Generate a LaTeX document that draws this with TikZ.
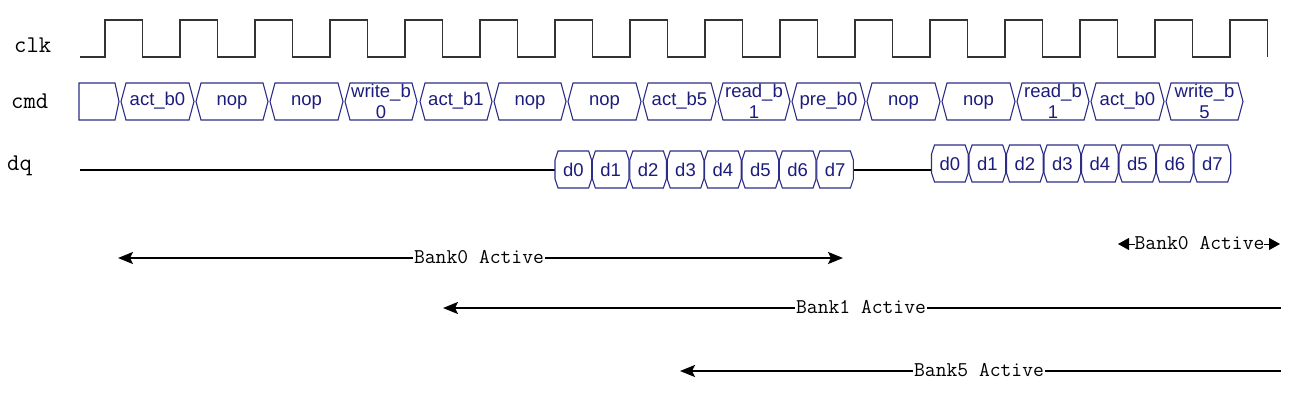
\documentclass[tikz,border=0pt]{standalone}
\usepackage{fontspec}
\setmainfont{Liberation Sans}
\usetikzlibrary{arrows.meta}
\definecolor{navy}{RGB}{28,28,125}
\definecolor{boxc}{RGB}{45,45,135}
\tikzset{
  wave/.style={line width=1.5pt, draw=black!80},
  cmdbox/.style={draw=boxc, line width=1.1pt},
  cmdtxt/.style={text=navy, font=\fontsize{18.5}{21}\selectfont, inner sep=0pt, align=center},
  signame/.style={font=\fontsize{24}{26}\ttfamily, inner sep=0pt, anchor=west},
  dline/.style={line width=1.8pt, draw=black},
  bankarrow/.style={line width=2.2pt, draw=black, {Stealth[length=15pt,width=12pt,inset=3pt]}-{Stealth[length=15pt,width=12pt,inset=3pt]}},
  banktxt/.style={font=\fontsize{21}{24}\ttfamily, fill=white, inner sep=1pt},
  smallhead/.style={line width=1pt, draw=black, {Triangle[length=11pt,width=12pt]}-{Triangle[length=11pt,width=12pt]}}
}
\begin{document}
\begin{tikzpicture}[x=1pt,y=-1pt]
\useasboundingbox (0,0) rectangle (1295,405);

% signal names
\node[signame] (clk) at (14,45) {clk};
\node[signame] (cmd) at (11,101) {cmd};
\node[signame] (dq) at (7,166) {dq};

% clock waveform
\draw[wave] (80,57) -- (105,57)
  \foreach \k in {0,...,14} { -- ({105+75*\k},20) -- ({142.5+75*\k},20) -- ({142.5+75*\k},57) -- ({180+75*\k},57) }
  -- (1230,20) -- (1267.5,20) -- (1267.5,57);

% cmd bus
\draw[cmdbox] (79,83) -- (115,83) -- (119,101.5) -- (115,120) -- (79,120) -- cycle;
\node (c0) at (99,101.5) {};
\foreach \a/\b/\txt/\nm in {
  121/194/{\strut act\_b0}/c1, 196/268/{\strut nop}/c2, 270/343/{\strut nop}/c3, 345/417/{write\_b\\0}/c4,
  420/492/{\strut act\_b1}/c5, 494/566/{\strut nop}/c6, 568/641/{\strut nop}/c7, 643/716/{\strut act\_b5}/c8,
  718/790/{read\_b\\1}/c9, 792/865/{\strut pre\_b0}/c10, 867/940/{\strut nop}/c11, 942/1015/{\strut nop}/c12,
  1017/1089/{read\_b\\1}/c13, 1091/1164/{\strut act\_b0}/c14, 1166/1243/{write\_b\\5}/c15} {
  \draw[cmdbox] (\a,101.5) -- (\a+5,83) -- (\b-5,83) -- (\b,101.5) -- (\b-5,120) -- (\a+5,120) -- cycle;
  \node[cmdtxt] (\nm) at ({(\a+\b)/2},101) {\txt};
}

% dq bus
\coordinate (dqs) at (80,170);
\coordinate (dqa) at (555,170);
\coordinate (dqb) at (854,170);
\coordinate (dqc) at (931,170);
\draw[dline] (dqs) -- (dqa);
\draw[dline] (dqb) -- (dqc);
\foreach \i in {0,...,7} {
  \pgfmathsetmacro{\xa}{555+37.4*\i}
  \pgfmathsetmacro{\xb}{555+37.4*(\i+1)-0.8}
  \draw[cmdbox] (\xa,160) -- (\xa+3,151) -- (\xb-3,151) -- (\xb,160) -- (\xb,179) -- (\xb-3,188) -- (\xa+3,188) -- (\xa,179) -- cycle;
  \node[cmdtxt] (da\i) at ({(\xa+\xb)/2},169.5) {d\i};
}
\foreach \i in {0,...,7} {
  \pgfmathsetmacro{\xa}{931.5+37.5*\i}
  \pgfmathsetmacro{\xb}{931.5+37.5*(\i+1)-0.8}
  \draw[cmdbox] (\xa,154) -- (\xa+3,145) -- (\xb-3,145) -- (\xb,154) -- (\xb,173) -- (\xb-3,182) -- (\xa+3,182) -- (\xa,173) -- cycle;
  \node[cmdtxt] (db\i) at ({(\xa+\xb)/2},163.5) {d\i};
}

% bank active arrows
\coordinate (b0l) at (118,258);
\coordinate (b0r) at (843,258);
\draw[bankarrow] (b0l) -- (b0r);
\node[banktxt] (b0t) at (479,257) {Bank0 Active};

\coordinate (b1l) at (443,308);
\coordinate (b1r) at (1281,308);
\draw[line width=2.2pt, {Stealth[length=15pt,width=12pt,inset=3pt]}-] (b1l) -- (b1r);
\node[banktxt] (b1t) at (861,307) {Bank1 Active};

\coordinate (b5l) at (680,371);
\coordinate (b5r) at (1281,371);
\draw[line width=2.2pt, {Stealth[length=15pt,width=12pt,inset=3pt]}-] (b5l) -- (b5r);
\node[banktxt] (b5t) at (979,370) {Bank5 Active};

\coordinate (b0bl) at (1118,244);
\coordinate (b0br) at (1280,244);
\draw[smallhead] (b0bl) -- (b0br);
\node[banktxt, inner sep=0pt] (b0bt) at (1199.5,243) {Bank0 Active};
\end{tikzpicture}
\end{document}
